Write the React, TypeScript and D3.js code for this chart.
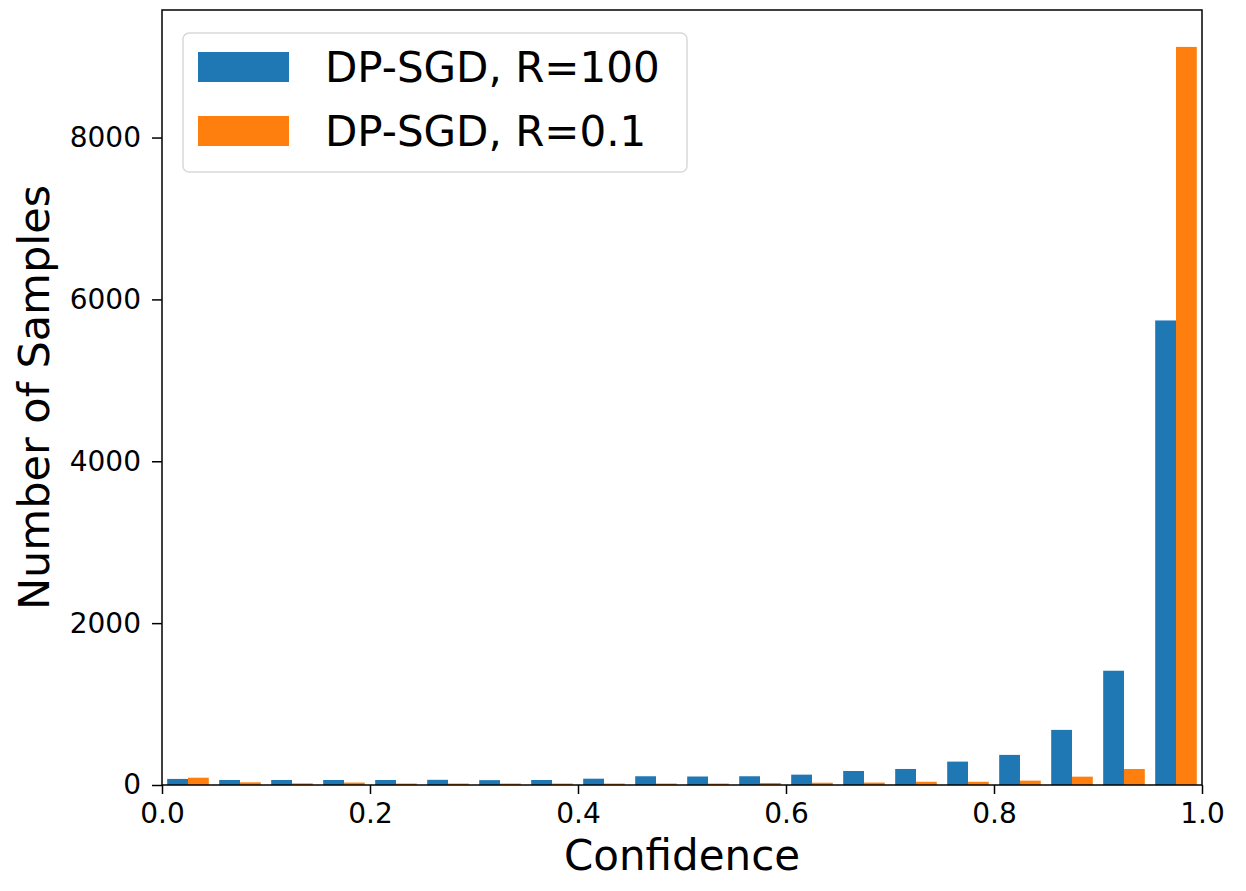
import * as d3 from 'd3';
import { useEffect, useRef } from 'react';

// left edges of the 20 histogram bins (bin width 0.05)
const binLefts = [
  0.0, 0.05, 0.1, 0.15, 0.2, 0.25, 0.3, 0.35, 0.4, 0.45,
  0.5, 0.55, 0.6, 0.65, 0.7, 0.75, 0.8, 0.85, 0.9, 0.95,
];
const binWidth = 0.05;

const countsR100 = [
  75, 62, 62, 62, 62, 64, 60, 62, 78, 108,
  105, 108, 128, 173, 198, 289, 372, 681, 1412, 5740,
];
const countsR01 = [
  90, 33, 20, 30, 18, 18, 18, 18, 18, 18,
  18, 25, 28, 30, 40, 40, 54, 103, 198, 9120,
];

const seriesNames = ['DP-SGD, R=100', 'DP-SGD, R=0.1'];
const seriesColors = ['#1f77b4', '#ff7f0e'];

const xTicks = [0, 0.2, 0.4, 0.6, 0.8, 1.0];
const yTicks = [0, 2000, 4000, 6000, 8000];

const W = 1246;
const H = 891;
const font = '"DejaVu Sans", sans-serif';

const App = () => {
  const chartRef = useRef(null);

  useEffect(() => {
    document.body.style.margin = '0';
    const svg = d3.select(chartRef.current);
    svg.selectAll('*').remove();

    const margin = { top: 10, right: 44, bottom: 106, left: 162 };
    const x = d3.scaleLinear().domain([0, 1]).range([margin.left, W - margin.right]);
    const yMax = d3.max([...countsR100, ...countsR01]) * 1.05;
    const y = d3.scaleLinear().domain([0, yMax]).range([H - margin.bottom, margin.top]);

    const all = [countsR100, countsR01];
    const barW = (binWidth * 0.8) / all.length;

    all.forEach((counts, s) => {
      svg
        .append('g')
        .selectAll('rect')
        .data(counts)
        .enter()
        .append('rect')
        .attr('x', (d, i) => x(binLefts[i] + binWidth * 0.1 + s * barW))
        .attr('width', x(barW) - x(0))
        .attr('y', (d) => y(d))
        .attr('height', (d) => y(0) - y(d))
        .attr('fill', seriesColors[s]);
    });

    const xAxis = d3.axisBottom(x).tickValues(xTicks).tickFormat(d3.format('.1f')).tickSizeOuter(0).tickSize(9).tickPadding(9);
    const gx = svg
      .append('g')
      .attr('transform', `translate(0, ${y(0)})`)
      .call(xAxis);
    gx.selectAll('text').style('font-family', font).style('font-size', '28px').attr('fill', '#000');
    gx.selectAll('line').attr('stroke', '#000').attr('stroke-width', 1.5);
    gx.select('.domain').remove();

    const yAxis = d3.axisLeft(y).tickValues(yTicks).tickFormat(d3.format('d')).tickSizeOuter(0).tickSize(10).tickPadding(11);
    const gy = svg
      .append('g')
      .attr('transform', `translate(${x(0)}, 0)`)
      .call(yAxis);
    gy.selectAll('text').style('font-family', font).style('font-size', '28px').attr('fill', '#000');
    gy.selectAll('line').attr('stroke', '#000').attr('stroke-width', 1.5);
    gy.select('.domain').remove();

    // frame
    svg
      .append('rect')
      .attr('x', x(0))
      .attr('y', y(yMax))
      .attr('width', x(1) - x(0))
      .attr('height', y(0) - y(yMax))
      .attr('fill', 'none')
      .attr('stroke', '#000')
      .attr('stroke-width', 1.5);

    svg
      .append('text')
      .attr('x', (x(0) + x(1)) / 2)
      .attr('y', 870)
      .attr('text-anchor', 'middle')
      .style('font-family', font)
      .style('font-size', '42px')
      .text('Confidence');

    svg
      .append('text')
      .attr('transform', `translate(49, ${(y(0) + y(yMax)) / 2}) rotate(-90)`)
      .attr('text-anchor', 'middle')
      .style('font-family', font)
      .style('font-size', '43px')
      .text('Number of Samples');

    // legend
    const lg = svg.append('g');
    lg.append('rect')
      .attr('x', 183)
      .attr('y', 33)
      .attr('width', 504)
      .attr('height', 139)
      .attr('rx', 6)
      .attr('fill', 'white')
      .attr('fill-opacity', 0.8)
      .attr('stroke', '#d9d9d9')
      .attr('stroke-width', 1.5);
    seriesNames.forEach((name, i) => {
      const cy = 67 + i * 64;
      lg.append('rect')
        .attr('x', 198)
        .attr('y', cy - 15)
        .attr('width', 91)
        .attr('height', 30)
        .attr('fill', seriesColors[i]);
      lg.append('text')
        .attr('x', 325)
        .attr('y', cy)
        .attr('dy', '0.36em')
        .style('font-family', font)
        .style('font-size', '42px')
        .text(name);
    });
  }, []);

  return <svg ref={chartRef} width={W} height={H} style={{ display: 'block', background: 'white' }}></svg>;
};

export default App;
